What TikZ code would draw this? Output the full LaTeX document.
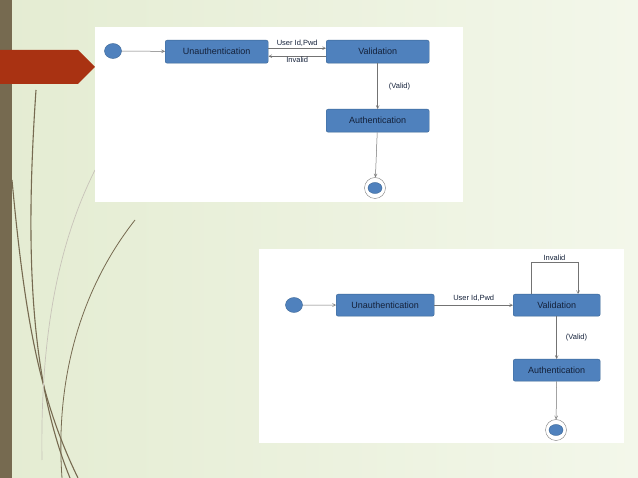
\documentclass[tikz,border=0pt]{standalone}
\usepackage{fontspec}
\setmainfont{Liberation Sans}
\usetikzlibrary{arrows.meta,shapes.geometric}
\definecolor{boxf}{HTML}{4F81BD}
\definecolor{boxd}{HTML}{3A6595}
\definecolor{txt}{HTML}{14213A}
\definecolor{bar}{HTML}{766A50}
\definecolor{redar}{HTML}{A93212}
\definecolor{bg}{HTML}{E4ECD2}
\definecolor{bgl}{HTML}{F3F7EA}
\begin{document}
\begin{tikzpicture}[x=1pt,y=-1pt,
  st/.style={draw=boxd,fill=boxf,rounded corners=2pt,text=txt,font=\fontsize{9}{10}\selectfont,inner sep=0pt,anchor=north west},
  ini/.style={draw=boxd,fill=boxf,ellipse,minimum width=17pt,minimum height=15pt,inner sep=0pt},
  lbl/.style={font=\fontsize{7.5}{8}\selectfont,text=txt,inner sep=1pt},
  tr/.style={draw=gray!90!black,line width=0.5pt,-{Straight Barb[length=3pt,width=3pt]}}]
\useasboundingbox (0,0) rectangle (638,478);
\shade[left color=bg,right color=bgl] (0,0) rectangle (638,478);
\fill[bar] (0,0) rectangle (12,478);
\fill[redar] (0,50) -- (78,50) -- (95,67) -- (78,84) -- (0,84) -- cycle;
\draw[bar,line width=1.1pt] (12,180) .. controls (25,320) and (40,400) .. (78,478);
\draw[bar,line width=1.1pt] (36,90) .. controls (25,250) and (30,380) .. (70,478);
\draw[bar,line width=0.8pt] (135,220) .. controls (80,290) and (55,380) .. (62,478);
\draw[bar!40,line width=0.7pt] (95,170) .. controls (60,240) and (40,330) .. (42,460);
% top panel
\fill[white] (95,27) rectangle (463,202);
\node[ini] (i1) at (113,51) {};
\node[st,minimum width=103pt,minimum height=23pt] (u1) at (165,40) {Unauthentication};
\node[st,minimum width=103pt,minimum height=23pt] (v1) at (326,40) {Validation};
\node[st,minimum width=103pt,minimum height=23pt] (a1) at (326,109) {Authentication};
\node[circle,draw=gray,fill=white,minimum size=21pt,inner sep=0pt] (f1) at (375,188) {};
\node[ini,minimum width=14pt,minimum height=11pt] at (f1) {};
\draw[tr] (i1) -- (u1);
\draw[tr] ([yshift=3.5pt]u1.east) -- node[lbl,above]{User Id,Pwd} ([yshift=3.5pt]v1.west);
\draw[tr] ([yshift=-4.5pt]v1.west) -- node[lbl,below]{Invalid} ([yshift=-4.5pt]u1.east);
\draw[tr] (v1) -- node[lbl,right,xshift=10pt]{(Valid)} (a1);
\draw[tr] (a1) -- (f1);
% bottom panel
\fill[white] (259,249) rectangle (624,443);
\node[ini] (i2) at (294,305) {};
\node[st,minimum width=98pt,minimum height=22pt] (u2) at (336,294) {Unauthentication};
\node[st,minimum width=87pt,minimum height=22pt] (v2) at (513,294) {Validation};
\node[st,minimum width=87pt,minimum height=22pt] (a2) at (513,359) {Authentication};
\node[circle,draw=gray,fill=white,minimum size=21pt,inner sep=0pt] (f2) at (556,430) {};
\node[ini,minimum width=14pt,minimum height=11pt] at (f2) {};
\draw[tr] (i2) -- (u2);
\draw[tr] (u2) -- node[lbl,above,yshift=2pt]{User Id,Pwd} (v2);
\draw[tr] ([xshift=18pt]v2.north west) -- ++(0,-32) -| node[lbl,above,pos=0.25]{Invalid} ([xshift=65pt]v2.north west);
\draw[tr] (v2) -- node[lbl,right,xshift=8pt]{(Valid)} (a2);
\draw[tr] (a2) -- (f2);
\end{tikzpicture}
\end{document}
